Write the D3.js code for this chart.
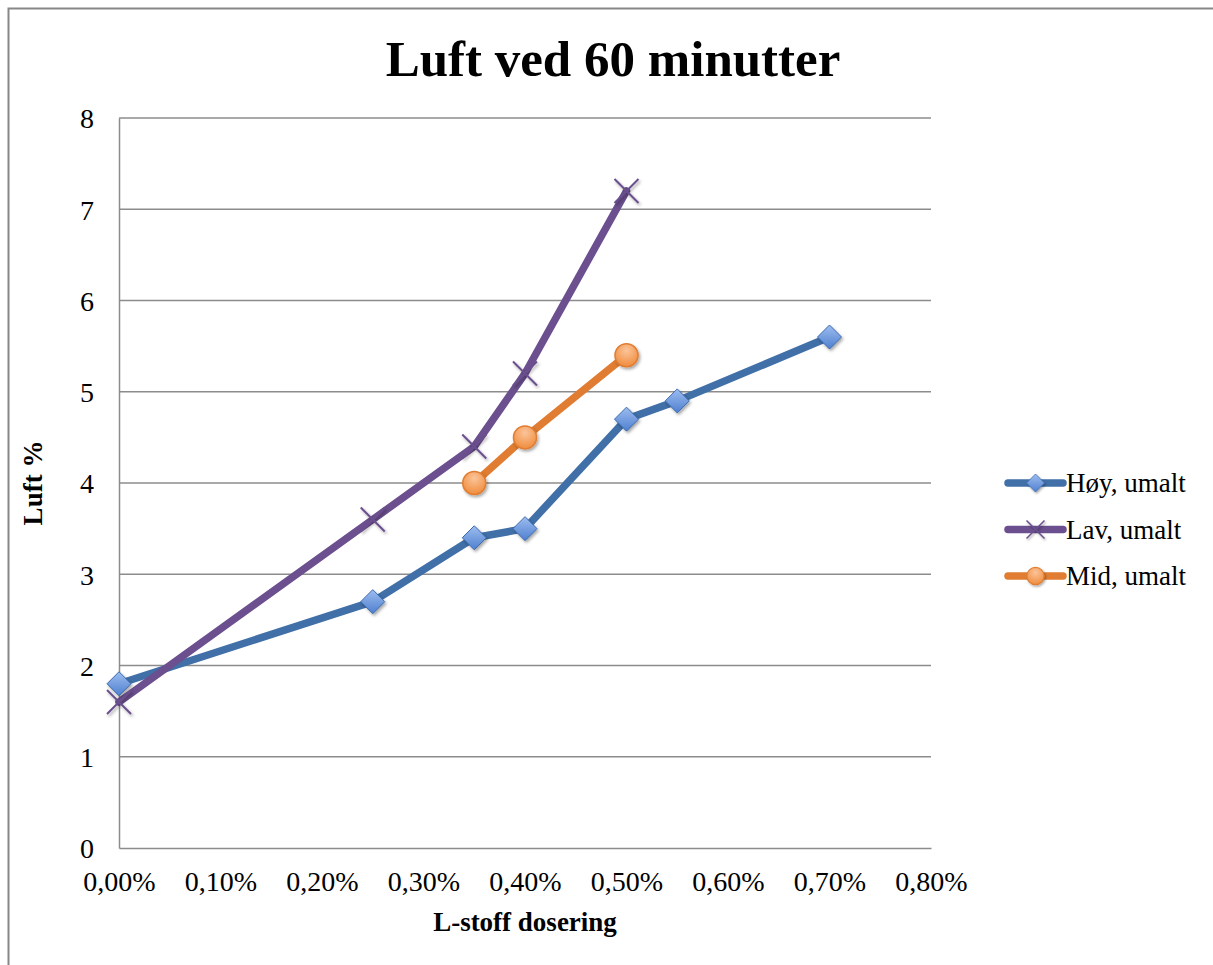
<!DOCTYPE html>
<html lang="no">
<head>
  <meta charset="UTF-8">
  <title>Luft ved 60 minutter</title>
  <script src="https://d3js.org/d3.v7.min.js"></script>
  <style>
    body { margin: 0; background: #fff; }
    text { font-family: "Liberation Serif", "DejaVu Serif", serif; fill: #000; }
  </style>
</head>
<body>
  <div id="chart"></div>
  <script>
    // data (dosage in %, air in %)
    const hoyX = [0.00, 0.25, 0.35, 0.40, 0.50, 0.55, 0.70];
    const hoyY = [1.8, 2.7, 3.4, 3.5, 4.7, 4.9, 5.6];
    const lavX = [0.00, 0.25, 0.35, 0.40, 0.50];
    const lavY = [1.6, 3.6, 4.4, 5.2, 7.2];
    const midX = [0.35, 0.40, 0.50];
    const midY = [4.0, 4.5, 5.4];
    const xTicks = [0, 0.1, 0.2, 0.3, 0.4, 0.5, 0.6, 0.7, 0.8];
    const yTicks = [0, 1, 2, 3, 4, 5, 6, 7, 8];
    const seriesNames = ["Høy, umalt", "Lav, umalt", "Mid, umalt"];

    const width = 1213, height = 965;
    const plot = { left: 119, top: 118, right: 931, bottom: 848 };

    const svg = d3.select("#chart").append("svg")
      .attr("width", width).attr("height", height);

    const defs = svg.append("defs");
    const shadow = defs.append("filter").attr("id", "shadow")
      .attr("x", "-50%").attr("y", "-50%").attr("width", "200%").attr("height", "200%");
    shadow.append("feDropShadow").attr("dx", 1.5).attr("dy", 2).attr("stdDeviation", 1.5)
      .attr("flood-color", "#000").attr("flood-opacity", 0.35);

    const gBlue = defs.append("linearGradient").attr("id", "gBlue")
      .attr("x1", 0).attr("y1", 0).attr("x2", 0).attr("y2", 1);
    gBlue.append("stop").attr("offset", "0%").attr("stop-color", "#9dbdf0");
    gBlue.append("stop").attr("offset", "100%").attr("stop-color", "#4f80cf");
    const gOrange = defs.append("radialGradient").attr("id", "gOrange")
      .attr("cx", "50%").attr("cy", "30%").attr("r", "70%");
    gOrange.append("stop").attr("offset", "0%").attr("stop-color", "#fbc49a");
    gOrange.append("stop").attr("offset", "100%").attr("stop-color", "#f08c3c");

    // outer frame
    svg.append("path").attr("d", `M8.5,${height} V8.5 H${width}`)
      .attr("fill", "none").attr("stroke", "#888").attr("stroke-width", 2);

    const x = d3.scaleLinear().domain([0, 0.8]).range([plot.left, plot.right]);
    const y = d3.scaleLinear().domain([0, 8]).range([plot.bottom, plot.top]);

    // gridlines
    svg.append("g").selectAll("line").data(yTicks.slice(1)).join("line")
      .attr("x1", plot.left).attr("x2", plot.right)
      .attr("y1", d => y(d)).attr("y2", d => y(d))
      .attr("stroke", "#8c8c8c").attr("stroke-width", 1.5);

    const fmt = d => d3.format(".2f")(d).replace(".", ",") + "%";

    const xAxis = svg.append("g").attr("transform", `translate(0,${plot.bottom})`)
      .call(d3.axisBottom(x).tickValues(xTicks).tickFormat(fmt).tickSize(0).tickPadding(23));
    const yAxis = svg.append("g").attr("transform", `translate(${plot.left},0)`)
      .call(d3.axisLeft(y).tickValues(yTicks).tickSize(0).tickPadding(25));
    [xAxis, yAxis].forEach(a => {
      a.select(".domain").attr("stroke", "#8c8c8c").attr("stroke-width", 1.5);
      a.selectAll("text").style("font-family", "Liberation Serif, serif").style("font-size", "28px").attr("fill", "#000");
    });
    yAxis.selectAll("text").attr("dy", "0.35em");

    // titles
    svg.append("text").attr("x", 613).attr("y", 76).attr("text-anchor", "middle")
      .style("font-size", "51px").style("font-weight", "bold").text("Luft ved 60 minutter");
    svg.append("text").attr("x", 525).attr("y", 931).attr("text-anchor", "middle")
      .style("font-size", "27px").style("font-weight", "bold").text("L-stoff dosering");
    svg.append("text").attr("transform", "translate(42,483) rotate(-90)").attr("text-anchor", "middle")
      .style("font-size", "27px").style("font-weight", "bold").text("Luft %");

    const series = [
      { name: seriesNames[0], xs: hoyX, ys: hoyY, color: "#4170a8", marker: "diamond" },
      { name: seriesNames[1], xs: lavX, ys: lavY, color: "#6b4f8e", marker: "cross" },
      { name: seriesNames[2], xs: midX, ys: midY, color: "#e07d32", marker: "circle" }
    ];

    function drawMarker(g, type, color) {
      if (type === "diamond") {
        g.append("path").attr("d", "M0,-12 L12,0 L0,12 L-12,0 Z")
          .attr("fill", "url(#gBlue)").attr("stroke", "#3b6aae").attr("stroke-width", 1)
          .attr("filter", "url(#shadow)");
      } else if (type === "circle") {
        g.append("circle").attr("r", 11.5)
          .attr("fill", "url(#gOrange)").attr("stroke", "#e07d32").attr("stroke-width", 1.5)
          .attr("filter", "url(#shadow)");
      } else {
        g.append("path").attr("d", "M-12,-12 L12,12 M-12,12 L12,-12")
          .attr("stroke", color).attr("stroke-width", 2).attr("fill", "none")
          .attr("filter", "url(#shadow)");
      }
    }

    const line = d3.line().x(d => x(d[0])).y(d => y(d[1]));

    series.forEach(s => {
      const pts = s.xs.map((v, i) => [v, s.ys[i]]);
      svg.append("path").datum(pts).attr("d", line)
        .attr("fill", "none").attr("stroke", s.color).attr("stroke-width", 7.5)
        .attr("stroke-linejoin", "round").attr("stroke-linecap", "round");
    });
    series.forEach(s => {
      const pts = s.xs.map((v, i) => [v, s.ys[i]]);
      svg.append("g").selectAll("g").data(pts).join("g")
        .attr("transform", d => `translate(${x(d[0])},${y(d[1])})`)
        .each(function () { drawMarker(d3.select(this), s.marker, s.color); });
    });

    // legend
    const legend = svg.append("g");
    series.forEach((s, i) => {
      const ly = 483 + i * 46.5;
      legend.append("line").attr("x1", 1008).attr("x2", 1063).attr("y1", ly).attr("y2", ly)
        .attr("stroke", s.color).attr("stroke-width", 7.5).attr("stroke-linecap", "round");
      const m = legend.append("g").attr("transform", `translate(1035.5,${ly}) scale(0.75)`);
      drawMarker(m, s.marker, s.color);
      legend.append("text").attr("x", 1066).attr("y", ly).attr("dy", "0.35em")
        .style("font-size", "27px").text(s.name);
    });
  </script>
</body>
</html>
